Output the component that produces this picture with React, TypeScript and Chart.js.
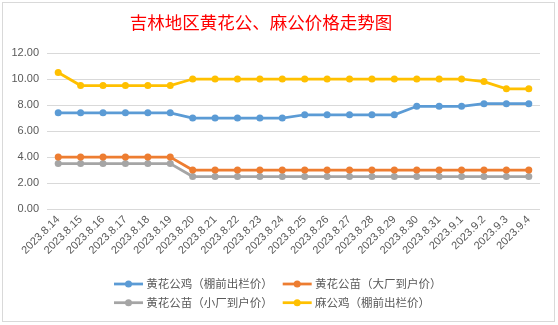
import React, { useEffect, useRef } from 'react';
import { Chart, registerables } from 'chart.js';

Chart.register(...registerables);

const titleText = '吉林地区黄花公、麻公价格走势图';

const categories = [
  '2023.8.14', '2023.8.15', '2023.8.16', '2023.8.17', '2023.8.18', '2023.8.19',
  '2023.8.20', '2023.8.21', '2023.8.22', '2023.8.23', '2023.8.24', '2023.8.25',
  '2023.8.26', '2023.8.27', '2023.8.28', '2023.8.29', '2023.8.30', '2023.8.31',
  '2023.9.1', '2023.9.2', '2023.9.3', '2023.9.4',
];

const seriesNames = [
  '黄花公鸡（棚前出栏价）',
  '黄花公苗（大厂到户价）',
  '黄花公苗（小厂到户价）',
  '麻公鸡（棚前出栏价）',
];

const huangGongJi = [7.4, 7.4, 7.4, 7.4, 7.4, 7.4, 7.0, 7.0, 7.0, 7.0, 7.0, 7.25, 7.25, 7.25, 7.25, 7.25, 7.9, 7.9, 7.9, 8.1, 8.1, 8.1];
const huangGongMiaoBig = [4, 4, 4, 4, 4, 4, 3, 3, 3, 3, 3, 3, 3, 3, 3, 3, 3, 3, 3, 3, 3, 3];
const huangGongMiaoSmall = [3.5, 3.5, 3.5, 3.5, 3.5, 3.5, 2.5, 2.5, 2.5, 2.5, 2.5, 2.5, 2.5, 2.5, 2.5, 2.5, 2.5, 2.5, 2.5, 2.5, 2.5, 2.5];
const maGongJi = [10.5, 9.5, 9.5, 9.5, 9.5, 9.5, 10, 10, 10, 10, 10, 10, 10, 10, 10, 10, 10, 10, 10, 9.8, 9.25, 9.25];

const yMin = 0;
const yMax = 12;
const yStep = 2;

const seriesColors = ['#5B9BD5', '#ED7D31', '#A5A5A5', '#FFC000'];

const CW = 551;
const CH = 318;

const titlePlugin = {
  id: 'customTitle',
  afterDraw(chart: any) {
    const ctx = chart.ctx;
    ctx.save();
    ctx.font = '17.5px "Noto Sans CJK SC"';
    ctx.fillStyle = '#FF0000';
    ctx.textAlign = 'center';
    ctx.textBaseline = 'middle';
    ctx.fillText(titleText, 258, 19);
    ctx.restore();
  },
};

const legendPlugin = {
  id: 'customLegend',
  afterDraw(chart: any) {
    const ctx = chart.ctx;
    const cols = [111, 279.7];
    const rows = [281, 299.7];
    ctx.save();
    chart.data.datasets.forEach((ds: any, i: number) => {
      const x = cols[i % 2];
      const y = rows[Math.floor(i / 2)];
      ctx.strokeStyle = ds.borderColor;
      ctx.lineWidth = 2.75;
      ctx.beginPath();
      ctx.moveTo(x, y);
      ctx.lineTo(x + 29, y);
      ctx.stroke();
      ctx.fillStyle = ds.borderColor;
      ctx.beginPath();
      ctx.arc(x + 14.5, y, 3.5, 0, Math.PI * 2);
      ctx.fill();
      ctx.fillStyle = '#595959';
      ctx.font = '11.5px "Noto Sans CJK SC"';
      ctx.textAlign = 'left';
      ctx.textBaseline = 'middle';
      ctx.fillText(ds.label, x + 32.3, y);
    });
    ctx.restore();
  },
};

export default function App() {
  const ref = useRef<HTMLCanvasElement | null>(null);

  useEffect(() => {
    if (!ref.current) return;
    const data = [huangGongJi, huangGongMiaoBig, huangGongMiaoSmall, maGongJi];
    const chart = new Chart(ref.current, {
      type: 'line',
      data: {
        labels: categories,
        datasets: seriesNames.map((name, i) => ({
          label: name,
          data: data[i],
          borderColor: seriesColors[i],
          backgroundColor: seriesColors[i],
          pointBackgroundColor: seriesColors[i],
          pointBorderColor: seriesColors[i],
          borderWidth: 2.75,
          pointRadius: 3.5,
          pointBorderWidth: 0,
          tension: 0,
          fill: false,
        })),
      },
      options: {
        responsive: false,
        animation: false,
        devicePixelRatio: 1,
        layout: { padding: { top: 50, right: 14, bottom: 60, left: 0 } },
        plugins: {
          legend: { display: false },
          title: { display: false },
          tooltip: { enabled: false },
        },
        scales: {
          x: {
            offset: true,
            grid: { display: false, drawTicks: false },
            border: { display: false },
            ticks: {
              autoSkip: false,
              maxRotation: 45,
              minRotation: 45,
              color: '#595959',
              font: { family: '"Liberation Sans"', size: 11 },
              padding: 4,
            },
            afterFit: (axis: any) => {
              axis.height = 52;
            },
          },
          y: {
            min: yMin,
            max: yMax,
            grid: { color: '#D9D9D9', lineWidth: 1, drawTicks: false },
            border: { display: false },
            ticks: {
              stepSize: yStep,
              color: '#595959',
              font: { family: '"Liberation Sans"', size: 11 },
              padding: 8,
              callback: (v: any) => Number(v).toFixed(2),
            },
            afterFit: (axis: any) => {
              axis.width = 44;
            },
          },
        },
      },
      plugins: [titlePlugin, legendPlugin],
    });
    return () => chart.destroy();
  }, []);

  return (
    <div
      style={{
        position: 'absolute',
        left: 2,
        top: 2,
        width: CW,
        height: CH,
        border: '1px solid #D9D9D9',
        background: '#FFFFFF',
      }}
    >
      <canvas ref={ref} width={CW} height={CH} style={{ display: 'block', width: CW, height: CH }} />
    </div>
  );
}
